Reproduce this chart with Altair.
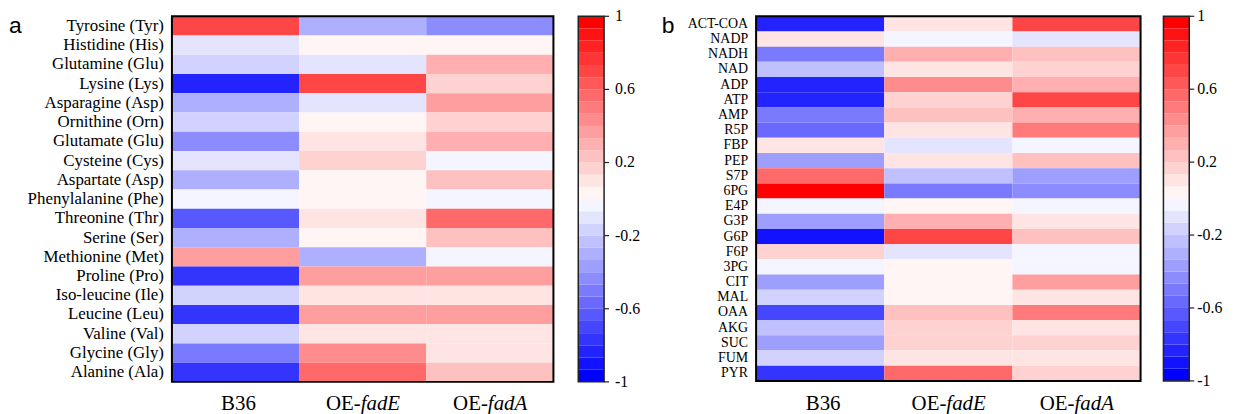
import altair as alt
import pandas as pd

# ---------------- data ----------------
conditions = ["B36", "OE-fadE", "OE-fadA"]
x_label_prefix = ["B36", "OE-", "OE-"]
x_label_gene = ["", "fadE", "fadA"]

amino_acids = [
    "Tyrosine (Tyr)", "Histidine (His)", "Glutamine (Glu)", "Lysine (Lys)",
    "Asparagine (Asp)", "Ornithine (Orn)", "Glutamate (Glu)", "Cysteine (Cys)",
    "Aspartate (Asp)", "Phenylalanine (Phe)", "Threonine (Thr)", "Serine (Ser)",
    "Methionine (Met)", "Proline (Pro)", "Iso-leucine (Ile)", "Leucine (Leu)",
    "Valine (Val)", "Glycine (Gly)", "Alanine (Ala)",
]
aa_b36 = [0.70, -0.10, -0.17, -0.83, -0.30, -0.17, -0.43, -0.10, -0.30, -0.03,
          -0.63, -0.30, 0.37, -0.77, -0.17, -0.77, -0.17, -0.50, -0.77]
aa_fade = [-0.30, 0.03, -0.10, 0.70, -0.10, 0.03, 0.10, 0.17, 0.03, 0.03,
           0.10, 0.03, -0.30, 0.37, 0.10, 0.37, 0.10, 0.43, 0.57]
aa_fada = [-0.43, 0.03, 0.30, 0.17, 0.37, 0.17, 0.30, -0.03, 0.23, -0.03,
           0.57, 0.23, -0.03, 0.37, 0.10, 0.37, 0.10, 0.10, 0.23]

metabolites = [
    "ACT-COA", "NADP", "NADH", "NAD", "ADP", "ATP", "AMP", "R5P", "FBP", "PEP",
    "S7P", "6PG", "E4P", "G3P", "G6P", "F6P", "3PG", "CIT", "MAL", "OAA",
    "AKG", "SUC", "FUM", "PYR",
]
met_b36 = [-0.83, 0.10, -0.50, -0.23, -0.83, -0.83, -0.50, -0.57, 0.10, -0.37,
           0.57, 0.97, -0.03, -0.37, -0.90, 0.17, -0.03, -0.37, -0.17, -0.70,
           -0.23, -0.37, -0.17, -0.77]
met_fade = [0.10, -0.03, 0.30, 0.10, 0.43, 0.17, 0.23, 0.10, -0.10, 0.10,
            -0.23, -0.50, 0.03, 0.30, 0.70, -0.10, 0.03, 0.03, 0.03, 0.23,
            0.17, 0.17, 0.10, 0.57]
met_fada = [0.70, -0.10, 0.23, 0.17, 0.30, 0.70, 0.30, 0.50, -0.03, 0.23,
            -0.37, -0.43, -0.03, 0.10, 0.23, -0.03, -0.03, 0.37, 0.10, 0.50,
            0.10, 0.17, 0.10, 0.17]

colorbar_ticks = [-1, -0.6, -0.2, 0.2, 0.6, 1]
colorbar_tick_labels = ["-1", "-0.6", "-0.2", "0.2", "0.6", "1"]
n_levels = 30

# ---------------- styling / layout ----------------
blue_steps = [0, 18, 35, 52, 70, 88, 105, 122, 140, 158, 175, 192, 210, 228, 245]
palette = ([f"#{v:02x}{v:02x}ff" for v in blue_steps] +
           [f"#ff{v:02x}{v:02x}" for v in reversed(blue_steps)])
cscale = alt.Scale(type="quantize", domain=[-1, 1], range=palette)

W, H = 1228, 406
SERIF = "'Liberation Serif', 'Times New Roman', Times, serif"
SANS = "'Liberation Sans', Arial, sans-serif"

panels = [
    dict(rows=amino_acids, vals=[aa_b36, aa_fade, aa_fada], hx=(165, 549), hy=(7, 375),
         cx=(574, 600), lsize=17, tag="a", tagx=1, toff=11),
    dict(rows=metabolites, vals=[met_b36, met_fade, met_fada], hx=(753, 1140), hy=(7, 374),
         cx=(1163, 1189), lsize=14, tag="b", tagx=658, toff=8),
]

layers = []
for p in panels:
    rows = p["rows"]
    recs = []
    for c, vals in zip(conditions, p["vals"]):
        for r, v in zip(rows, vals):
            recs.append({"cond": c, "row": r, "v": v})
    df = pd.DataFrame(recs)
    xs = alt.Scale(domain=conditions, range=list(p["hx"]), paddingInner=0, paddingOuter=0)
    ys = alt.Scale(domain=rows, range=list(p["hy"]), paddingInner=0, paddingOuter=0)

    cells = alt.Chart(df).mark_rect().encode(
        x=alt.X("cond:N", scale=xs, axis=None),
        y=alt.Y("row:N", scale=ys, axis=None),
        color=alt.Color("v:Q", scale=cscale, legend=None),
    )
    layers.append(cells)

    frame = alt.Chart(pd.DataFrame({"k": [0]})).mark_rect(
        fill="transparent", stroke="black", strokeWidth=2
    ).encode(x=alt.value(p["hx"][0]), x2=alt.value(p["hx"][1]),
             y=alt.value(p["hy"][0]), y2=alt.value(p["hy"][1]))
    layers.append(frame)

    ylab = alt.Chart(pd.DataFrame({"row": rows})).mark_text(
        align="right", baseline="middle", font=SERIF, fontSize=p["lsize"], color="black"
    ).encode(
        y=alt.Y("row:N", scale=ys, axis=None),
        x=alt.value(p["hx"][0] - 8),
        text="row:N",
    )
    layers.append(ylab)

    xdf = pd.DataFrame({"cond": conditions, "prefix": x_label_prefix, "gene": x_label_gene})
    xlab_plain = alt.Chart(xdf).transform_filter(alt.datum.gene == "").mark_text(
        align="center", baseline="alphabetic", font=SERIF, fontSize=21, color="black", dx=3
    ).encode(x=alt.X("cond:N", scale=xs, axis=None), y=alt.value(403), text="prefix:N")
    xlab_pre = alt.Chart(xdf).transform_filter(alt.datum.gene != "").mark_text(
        align="right", baseline="alphabetic", font=SERIF, fontSize=21, color="black", dx=-2
    ).encode(x=alt.X("cond:N", scale=xs, axis=None), y=alt.value(403), text="prefix:N")
    xlab_gene = alt.Chart(xdf).transform_filter(alt.datum.gene != "").mark_text(
        align="left", baseline="alphabetic", font=SERIF, fontSize=21, fontStyle="italic",
        color="black", dx=-2
    ).encode(x=alt.X("cond:N", scale=xs, axis=None), y=alt.value(403), text="gene:N")
    layers += [xlab_plain, xlab_pre, xlab_gene]

    # colorbar
    cby = alt.Scale(domain=[-1, 1], range=[p["hy"][1], p["hy"][0]], nice=False, zero=False)
    step = 2 / n_levels
    bins = pd.DataFrame({
        "lo": [-1 + i * step for i in range(n_levels)],
        "hi": [-1 + (i + 1) * step for i in range(n_levels)],
        "mid": [-1 + (i + 0.5) * step for i in range(n_levels)],
    })
    cbar = alt.Chart(bins).mark_rect().encode(
        y=alt.Y("lo:Q", scale=cby, axis=None), y2="hi:Q",
        x=alt.value(p["cx"][0]), x2=alt.value(p["cx"][1]),
        color=alt.Color("mid:Q", scale=cscale, legend=None),
    )
    cframe = alt.Chart(pd.DataFrame({"k": [0]})).mark_rect(
        fill="transparent", stroke="#222222", strokeWidth=1.5
    ).encode(x=alt.value(p["cx"][0]), x2=alt.value(p["cx"][1]),
             y=alt.value(p["hy"][0]), y2=alt.value(p["hy"][1]))
    tdf = pd.DataFrame({"t": colorbar_ticks, "lab": colorbar_tick_labels})
    ticks = alt.Chart(tdf).mark_rule(color="#222222", strokeWidth=1.2).encode(
        y=alt.Y("t:Q", scale=cby, axis=None),
        x=alt.value(p["cx"][1]), x2=alt.value(p["cx"][1] + 5),
    )
    tlabs = alt.Chart(tdf).mark_text(
        align="left", baseline="middle", font=SERIF, fontSize=16, color="black"
    ).encode(y=alt.Y("t:Q", scale=cby, axis=None), x=alt.value(p["cx"][1] + p["toff"]),
             text="lab:N")
    layers += [cbar, cframe, ticks, tlabs]

    tag = alt.Chart(pd.DataFrame({"tag": [p["tag"]]})).mark_text(
        align="left", baseline="alphabetic", font=SANS, fontSize=23, color="black"
    ).encode(x=alt.value(p["tagx"]), y=alt.value(24), text="tag:N")
    layers.append(tag)

chart = alt.layer(*layers).resolve_scale(
    x="independent", y="independent"
).properties(
    width=W, height=H, padding=0,
    autosize=alt.AutoSizeParams(type="none"),
).configure_view(stroke=None)

chart.save("out.html", embed_options={"renderer": "svg", "actions": False})
